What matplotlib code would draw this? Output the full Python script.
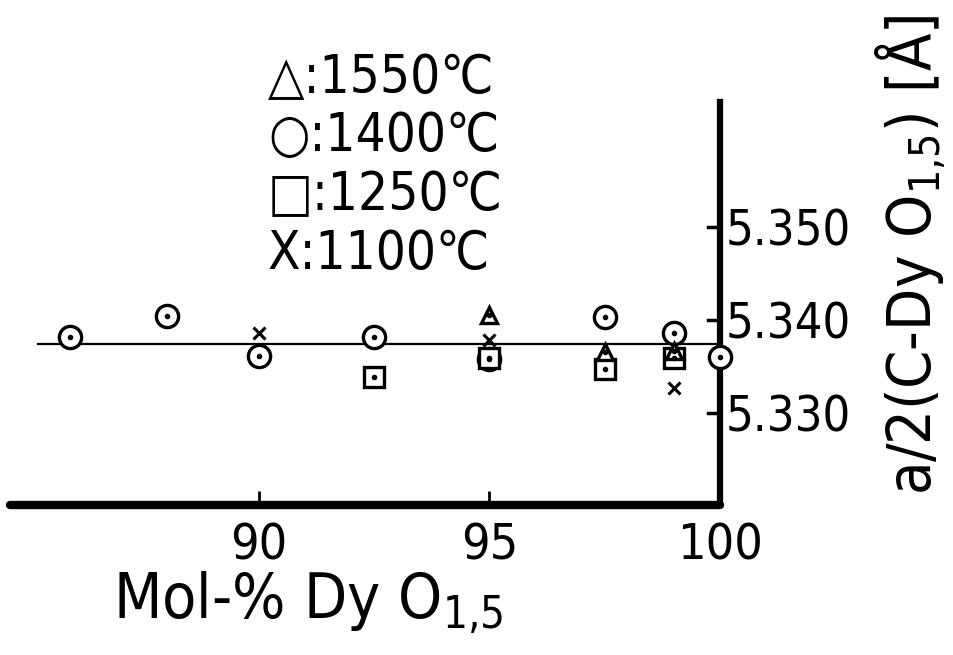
import matplotlib
matplotlib.use("Agg")
import matplotlib.pyplot as plt

plt.rcParams['font.family'] = ['DejaVu Sans']
plt.rcParams['font.stretch'] = 'condensed'
plt.rcParams['mathtext.default'] = 'regular'

# lattice parameter a/2 vs composition, one list pair per annealing temperature
x_1550 = [95, 97.5, 99]
y_1550 = [5.3405, 5.3365, 5.3366]

x_1400 = [85.9, 88, 90, 92.5, 95, 97.5, 99, 100]
y_1400 = [5.3382, 5.3404, 5.3361, 5.3382, 5.3358, 5.3403, 5.3386, 5.3360]

x_1250 = [92.5, 95, 97.5, 99]
y_1250 = [5.3339, 5.3359, 5.3347, 5.3359]

x_1100 = [90, 95, 99]
y_1100 = [5.3386, 5.3378, 5.3327]

# mean line through all points
fit_x = [85.2, 100]
fit_y = [5.3374, 5.3374]

xticks = [90, 95, 100]
yticks = [5.330, 5.340, 5.350]
legend_lines = ["\u25b3:1550\u2103", "\u25cb:1400\u2103", "\u25a1:1250\u2103", "X:1100\u2103"]

fig = plt.figure(figsize=(9.54, 6.55), dpi=100)
ax = fig.add_axes([10/954, 1 - 505/655, 710/954, 403/655])

ax.plot(fit_x, fit_y, color='k', lw=1.6, zorder=2)

common = dict(ls='none', mfc='white', mec='k', mew=2.4, zorder=3, clip_on=False)
ax.plot(x_1400, y_1400, marker='o', ms=16, **common)
ax.plot(x_1250, y_1250, marker='s', ms=15, **common)
ax.plot(x_1550, y_1550, marker='^', ms=12, **common)
ax.plot(x_1100, y_1100, ls='none', marker='x', ms=9, mew=2.2, color='k', zorder=4)

# centre dots of the open symbols
for xs, ys in [(x_1400, y_1400), (x_1250, y_1250), (x_1550, y_1550)]:
    ax.plot(xs, ys, ls='none', marker='o', ms=3, color='k', zorder=5, clip_on=False)

ax.set_xlim(84.6, 100)
ax.set_ylim(5.3201, 5.3634)

ax.spines['top'].set_visible(False)
ax.spines['left'].set_visible(False)
ax.spines['bottom'].set_linewidth(6)
ax.spines['right'].set_linewidth(4.5)
ax.spines['bottom'].set_capstyle('round')

ax.yaxis.tick_right()
ax.set_yticks(yticks)
ax.set_yticklabels(["%.3f" % v for v in yticks])
ax.set_xticks(xticks)
ax.set_xticklabels([str(v) for v in xticks])
ax.tick_params(axis='y', direction='out', length=0, labelsize=35, pad=4)
ax.tick_params(axis='x', direction='in', length=10, width=2, labelsize=36, pad=12)
# short tick marks pointing left from the right-hand axis
for v in yticks:
    ax.plot([99.75, 100], [v, v], color='k', lw=2.5, clip_on=False, zorder=2)

ax.set_xlabel("Mol-% Dy O$_{1{,}5}$", fontsize=45, x=0.42, labelpad=0)
fig.text(0.955, 1 - 255/655, "a/2(C-Dy O$_{1{,}5}$) [\u00c5]", rotation=90,
         fontsize=44, ha='center', va='center')

for i, s in enumerate(legend_lines):
    fig.text(268/954, 1 - (78 + 58.5*i)/655, s, fontsize=38, ha='left', va='center')

fig.savefig("out.png", dpi=100)
